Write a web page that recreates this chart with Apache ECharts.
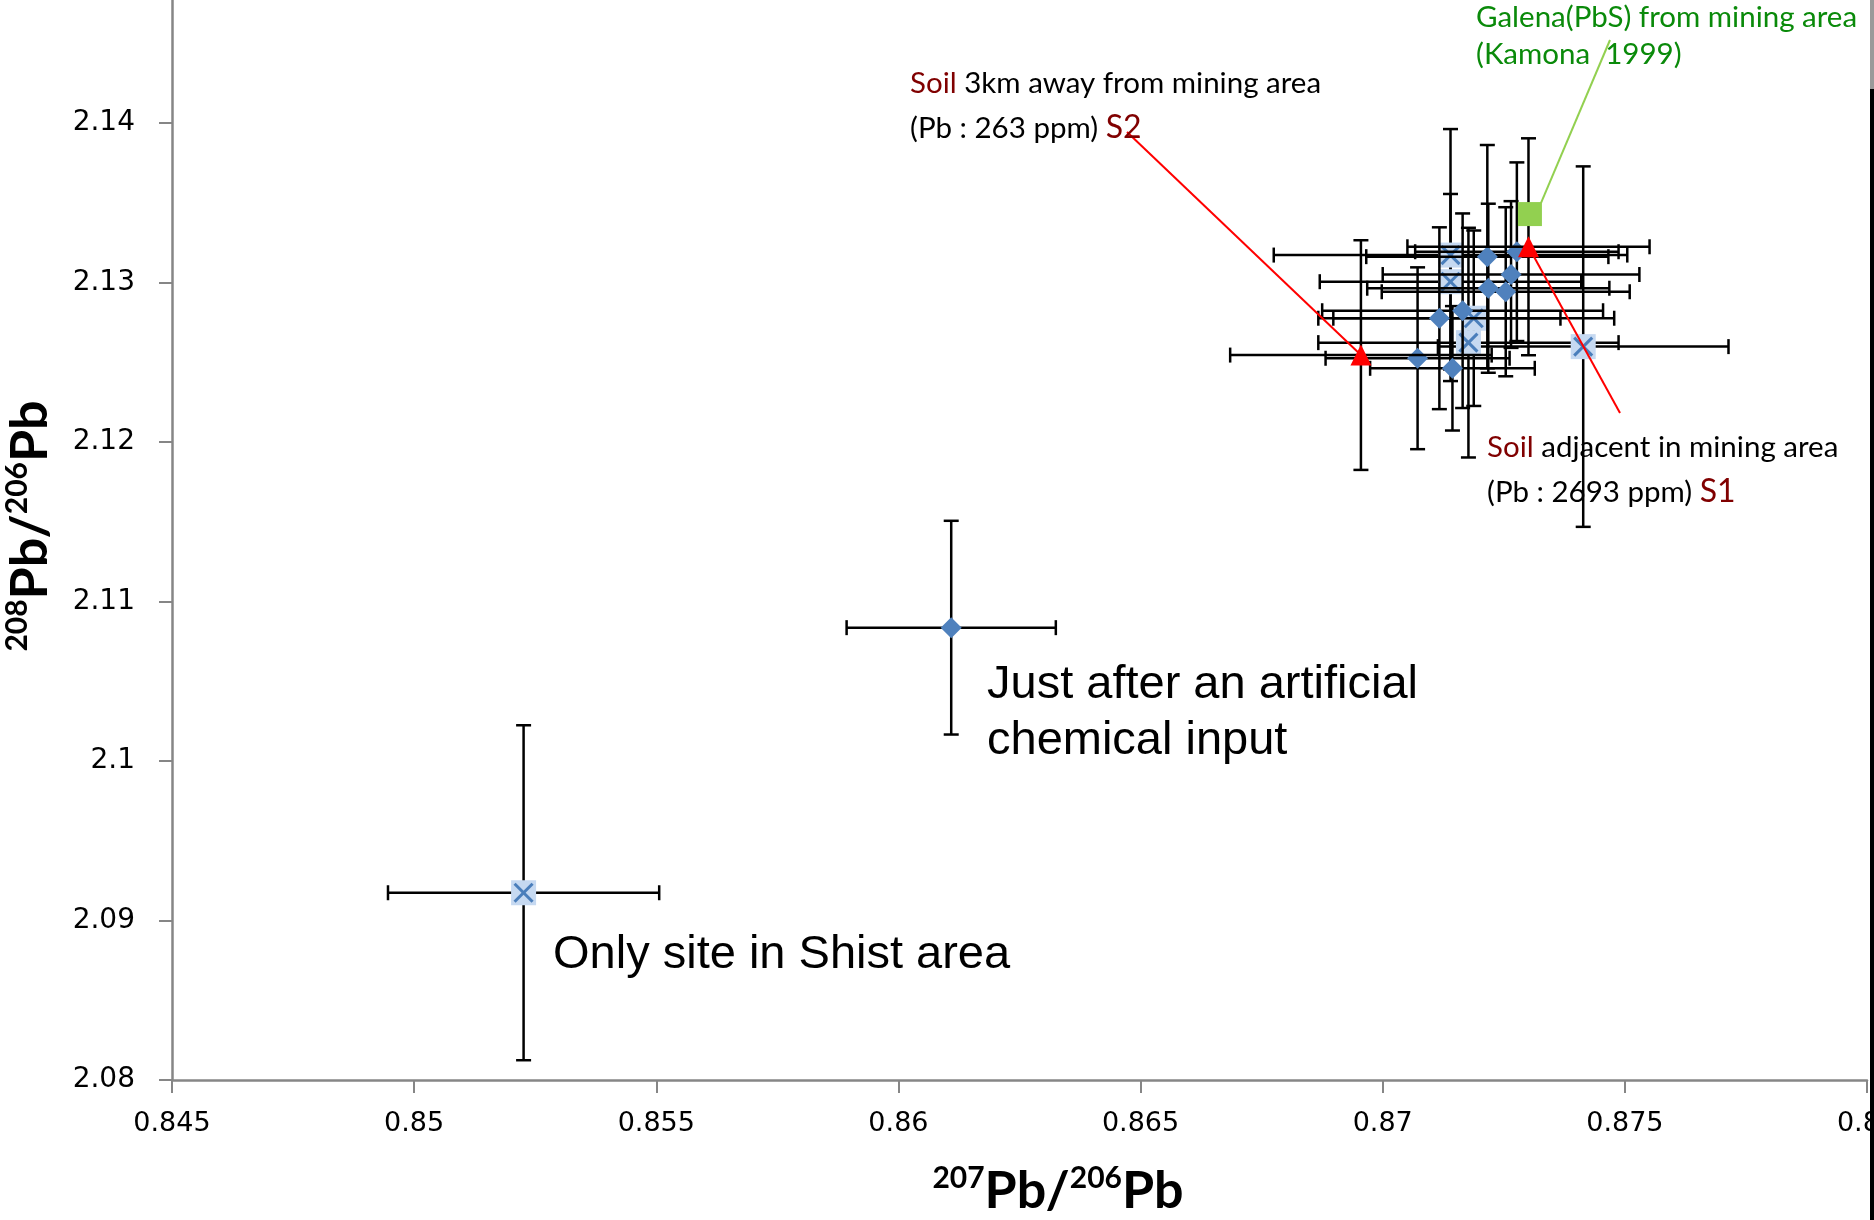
<!DOCTYPE html>
<html><head><meta charset="utf-8">
<script src="https://cdn.jsdelivr.net/npm/echarts@6/dist/echarts.min.js"></script>
<style>html,body{margin:0;padding:0;background:#fff;overflow:hidden}#c{width:1874px;height:1220px}</style>
</head><body><div id="c"></div><script>
// ---- data (207Pb/206Pb, 208Pb/206Pb, ± errors) ----
const diamondPb207 = [0.86109, 0.87216, 0.87277, 0.87265, 0.87218, 0.87254, 0.87165, 0.87117, 0.87072, 0.87144];
const diamondPb208 = [2.10836, 2.13162, 2.13193, 2.13050, 2.12964, 2.12942, 2.12823, 2.12776, 2.12525, 2.12462];
const diamondErrX  = [0.00216, 0.0025, 0.0021, 0.00265, 0.0025, 0.00256, 0.0029, 0.0025, 0.0019, 0.0017];
const diamondErrY  = [0.0067, 0.0070, 0.0056, 0.0046, 0.0053, 0.0053, 0.0061, 0.0057, 0.0057, 0.0039];

const crossPb207 = [0.85226, 0.87140, 0.87140, 0.87188, 0.87177, 0.87414];
const crossPb208 = [2.09174, 2.13172, 2.13005, 2.12776, 2.12623, 2.12598];
const crossErrX  = [0.0028, 0.00365, 0.0027, 0.0029, 0.0031, 0.0030];
const crossErrY  = [0.0105, 0.0079, 0.0055, 0.0055, 0.0072, 0.0113];

const soilNames  = ['S2', 'S1'];
const soilPb207  = [0.86955, 0.87301];
const soilPb208  = [2.12545, 2.13224];
const soilErrX   = [0.0027, 0.0025];
const soilErrY   = [0.0072, 0.0068];

const galenaPb207 = [0.87304];
const galenaPb208 = [2.13429];

const xMin = 0.845, xMax = 0.88, xStep = 0.005;
const yMin = 2.08, yMax = 2.15, yStep = 0.01;

// ---- build ----
const zip = (a, b, c, d) => a.map((v, i) => c ? [v, b[i], c[i], d[i]] : [v, b[i]]);
const diamondData = zip(diamondPb207, diamondPb208, diamondErrX, diamondErrY);
const crossData = zip(crossPb207, crossPb208, crossErrX, crossErrY);
const soilData = zip(soilPb207, soilPb208, soilErrX, soilErrY);
const galenaData = zip(galenaPb207, galenaPb208);

function errRender(params, api) {
  const x = api.value(0), y = api.value(1), ex = api.value(2), ey = api.value(3);
  const c = api.coord([x, y]);
  const l = api.coord([x - ex, y]), r = api.coord([x + ex, y]);
  const t = api.coord([x, y + ey]), b = api.coord([x, y - ey]);
  const cap = 7.5;
  const st = { stroke: '#000', lineWidth: 2.5 };
  const ln = (x1, y1, x2, y2) => ({ type: 'line', shape: { x1, y1, x2, y2 }, style: st });
  return { type: 'group', children: [
    ln(l[0], c[1], r[0], c[1]),
    ln(l[0], c[1] - cap, l[0], c[1] + cap),
    ln(r[0], c[1] - cap, r[0], c[1] + cap),
    ln(c[0], t[1], c[0], b[1]),
    ln(c[0] - cap, t[1], c[0] + cap, t[1]),
    ln(c[0] - cap, b[1], c[0] + cap, b[1])
  ]};
}
function crossRender(params, api) {
  const c = api.coord([api.value(0), api.value(1)]);
  const h = 12.5, k = 9;
  const st = { stroke: '#4A7EBB', lineWidth: 3 };
  return { type: 'group', children: [
    { type: 'rect', shape: { x: c[0] - h, y: c[1] - h, width: 2 * h, height: 2 * h }, style: { fill: '#C6D9F1' } },
    { type: 'line', shape: { x1: c[0] - k, y1: c[1] - k, x2: c[0] + k, y2: c[1] + k }, style: st },
    { type: 'line', shape: { x1: c[0] - k, y1: c[1] + k, x2: c[0] + k, y2: c[1] - k }, style: st }
  ]};
}

const chart = echarts.init(document.getElementById('c'), null, { renderer: 'canvas' });
const axisCol = '#868686';
chart.setOption({
  backgroundColor: '#fff',
  animation: false,
  grid: { left: 172, right: 7, top: -36.5, bottom: 140, containLabel: false, outerBoundsMode: 'none' },
  xAxis: {
    type: 'value', min: xMin, max: xMax, interval: xStep,
    axisLine: { onZero: false, lineStyle: { color: axisCol, width: 2.5 } },
    axisTick: { length: 13, lineStyle: { color: axisCol, width: 2 } },
    splitLine: { show: false },
    axisLabel: { color: '#000', fontFamily: 'DejaVu Sans', fontSize: 27, margin: 30 }
  },
  yAxis: {
    type: 'value', min: yMin, max: yMax, interval: yStep,
    axisLine: { show: true, onZero: false, lineStyle: { color: axisCol, width: 2.5 } },
    axisTick: { show: true, length: 13, lineStyle: { color: axisCol, width: 2 } },
    splitLine: { show: false },
    axisLabel: { color: '#000', fontFamily: 'DejaVu Sans', fontSize: 28, margin: 37 }
  },
  series: [
    { type: 'custom', name: 'crossErr', data: crossData, renderItem: errRender, z: 2 },
    { type: 'custom', name: 'cross', data: crossData, renderItem: crossRender, z: 3 },
    { type: 'custom', name: 'diamondErr', data: diamondData, renderItem: errRender, z: 4 },
    { type: 'scatter', name: 'diamond', data: diamondData, symbol: 'diamond', symbolSize: 21,
      itemStyle: { color: '#4F81BD', opacity: 1 }, z: 5 },
    { type: 'custom', name: 'soilErr', data: soilData, renderItem: errRender, z: 6 },
    { type: 'scatter', name: 'soil', data: soilData, symbol: 'triangle', symbolSize: 21,
      itemStyle: { color: '#FF0000', opacity: 1 }, z: 8 },
    { type: 'scatter', name: 'galena', data: galenaData, symbol: 'rect', symbolSize: 24,
      itemStyle: { color: '#92D050', opacity: 1 }, z: 8 }
  ]
});

// ---- annotations ----
const s2 = chart.convertToPixel({ gridIndex: 0 }, [soilPb207[0], soilPb208[0]]);
const s1 = chart.convertToPixel({ gridIndex: 0 }, [soilPb207[1], soilPb208[1]]);
const gl = chart.convertToPixel({ gridIndex: 0 }, [galenaPb207[0], galenaPb208[0]]);
const darkRed = '#800000', green = '#0A8A0A';
const annFont = 'Lato';
const fs = 29.5;
const txt = (x, y, text, rich, extra) => Object.assign({
  type: 'text', x, y, z: 100,
  style: Object.assign({ text, fill: '#000', font: fs + 'px ' + annFont, textVerticalAlign: 'middle', textAlign: 'left', rich: rich || {} }, extra || {})
});
const richSoil = {
  r: { fill: darkRed, fontSize: fs, fontFamily: annFont },
  k: { fill: '#000', fontSize: fs, fontFamily: annFont },
  s: { fill: darkRed, fontSize: 32, fontFamily: annFont }
};
const supRich = {
  b: { fill: '#000', fontSize: 52, fontFamily: 'Lato', fontWeight: 'bold', lineHeight: 56 },
  u: { fill: '#000', fontSize: 30, fontFamily: 'Lato', fontWeight: 'bold', verticalAlign: 'top', lineHeight: 56 }
};
chart.setOption({
  graphic: [
    { type: 'line', z: 7, shape: { x1: 1127, y1: 132, x2: s2[0], y2: s2[1] }, style: { stroke: '#FF0000', lineWidth: 2 } },
    { type: 'line', z: 7, shape: { x1: 1620, y1: 413, x2: s1[0], y2: s1[1] }, style: { stroke: '#FF0000', lineWidth: 2 } },
    { type: 'line', z: 101, shape: { x1: 1610, y1: 40, x2: gl[0] + 11, y2: gl[1] - 11 }, style: { stroke: '#92D050', lineWidth: 2 } },
    txt(910, 83, '{r|Soil} {k|3km away from mining area}', richSoil),
    txt(910, 128, '{k|(Pb : 263 ppm)} {s|S2}', richSoil),
    txt(1487, 447, '{r|Soil} {k|adjacent in mining area}', richSoil),
    txt(1487, 492, '{k|(Pb : 2693 ppm)} {s|S1}', richSoil),
    txt(1476, 17, 'Galena(PbS) from mining area', null, { fill: green }),
    txt(1476, 54, '(Kamona  1999)', null, { fill: green }),
    txt(987, 685, 'Just after an artificial', null, { font: '47px "Liberation Sans"' }),
    txt(987, 741, 'chemical input', null, { font: '47px "Liberation Sans"' }),
    txt(553, 955, 'Only site in Shist area', null, { font: '47px "Liberation Sans"' }),
    { type: 'text', x: 1058, y: 1191, z: 100,
      style: { text: '{u|207}{b|Pb/}{u|206}{b|Pb}', rich: supRich, textAlign: 'center', textVerticalAlign: 'middle' } },
    { type: 'text', x: 30, y: 526, rotation: Math.PI / 2, z: 100,
      style: { text: '{u|208}{b|Pb/}{u|206}{b|Pb}', rich: supRich, textAlign: 'center', textVerticalAlign: 'middle' } },
    { type: 'line', z: 100, shape: { x1: 1872, y1: 0, x2: 1872, y2: 89 }, style: { stroke: '#9a9a9a', lineWidth: 4 } },
    { type: 'line', z: 100, shape: { x1: 1872, y1: 89, x2: 1872, y2: 1220 }, style: { stroke: '#000', lineWidth: 4 } }
  ]
});
</script></body></html>
